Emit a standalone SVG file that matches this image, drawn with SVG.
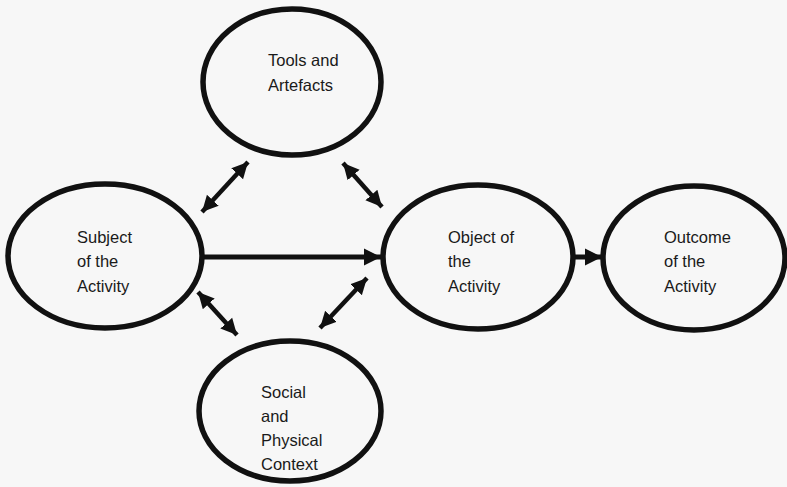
<svg xmlns="http://www.w3.org/2000/svg" width="787" height="487" viewBox="0 0 787 487">
<style>
.node ellipse{fill:none;stroke:#111;stroke-width:5.5}
.node text{font-family:"Liberation Sans",Arial,sans-serif;font-size:16.5px;fill:#1a1a1a}
.conn line{stroke:#111;fill:none}
.main{stroke-width:5}
.dbl{stroke-width:4.5}
</style>
<defs>
<marker id="ah" markerUnits="userSpaceOnUse" markerWidth="20" markerHeight="20" refX="17" refY="10" orient="auto">
<path d="M0,1.5 L17,10 L0,18.5 Z" fill="#111"/>
</marker>
<marker id="ahs" markerUnits="userSpaceOnUse" markerWidth="20" markerHeight="20" refX="16" refY="10" orient="auto-start-reverse">
<path d="M0,2 L16,10 L0,18 Z" fill="#111"/>
</marker>
</defs>
<rect width="787" height="487" fill="#f7f7f7"/>
<g class="conn">
<line class="main" x1="203" y1="257" x2="381" y2="257" marker-end="url(#ah)"/>
<line class="main" x1="574" y1="257" x2="602" y2="257" marker-end="url(#ah)"/>
<line class="dbl" x1="202" y1="212" x2="248" y2="162" marker-start="url(#ahs)" marker-end="url(#ahs)"/>
<line class="dbl" x1="343" y1="163" x2="382" y2="207" marker-start="url(#ahs)" marker-end="url(#ahs)"/>
<line class="dbl" x1="198" y1="292" x2="237" y2="335" marker-start="url(#ahs)" marker-end="url(#ahs)"/>
<line class="dbl" x1="367" y1="278" x2="320" y2="328" marker-start="url(#ahs)" marker-end="url(#ahs)"/>
</g>
<g id="tools" class="node">
<ellipse cx="292" cy="82" rx="89" ry="73"/>
<text x="268" y="66">Tools and</text>
<text x="268" y="91">Artefacts</text>
</g>
<g id="subject" class="node">
<ellipse cx="105" cy="256" rx="97" ry="72"/>
<text x="77" y="243">Subject</text>
<text x="77" y="267">of the</text>
<text x="77" y="292">Activity</text>
</g>
<g id="object" class="node">
<ellipse cx="478" cy="257" rx="95" ry="72"/>
<text x="448" y="243">Object of</text>
<text x="448" y="267">the</text>
<text x="448" y="292">Activity</text>
</g>
<g id="outcome" class="node">
<ellipse cx="694" cy="258" rx="91" ry="72"/>
<text x="664" y="243">Outcome</text>
<text x="664" y="267">of the</text>
<text x="664" y="292">Activity</text>
</g>
<g id="context" class="node">
<ellipse cx="290" cy="411" rx="91" ry="70"/>
<text x="261" y="398">Social</text>
<text x="261" y="422">and</text>
<text x="261" y="446">Physical</text>
<text x="261" y="470">Context</text>
</g>
</svg>
